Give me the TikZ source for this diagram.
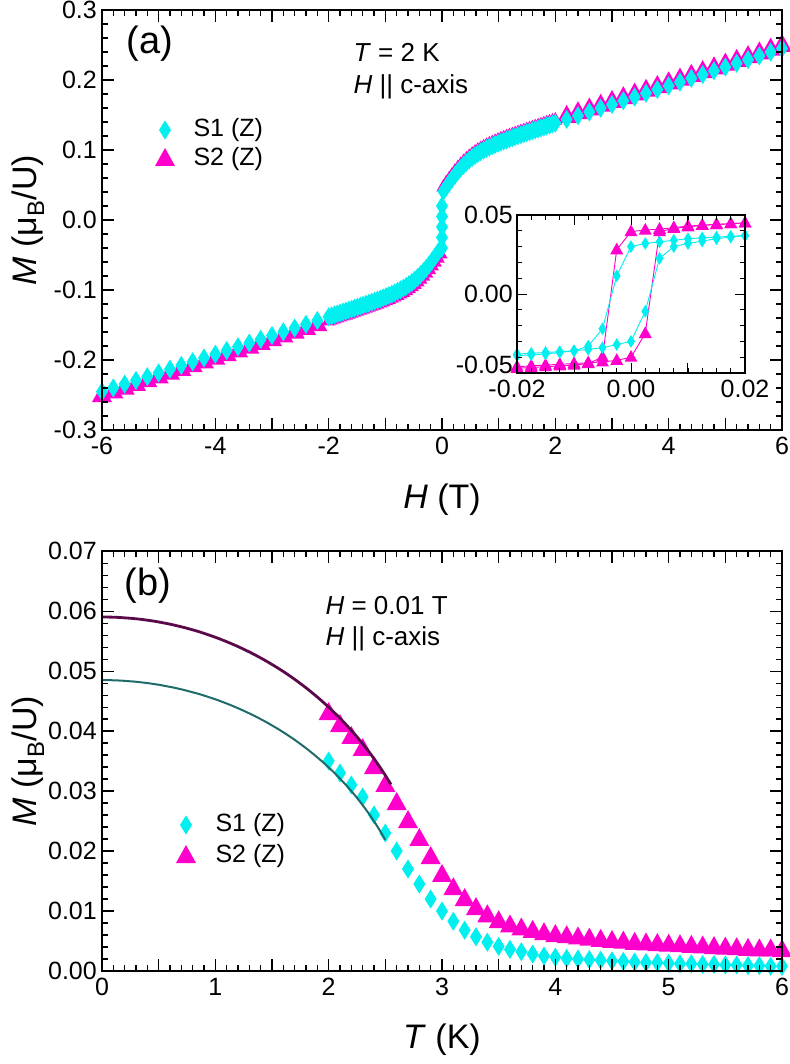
\documentclass[tikz,border=0pt]{standalone}
\usepackage{fontspec}
\setmainfont{Liberation Sans}
\usepackage{xcolor}
\definecolor{magmk}{HTML}{FF00CC}
\definecolor{cyanmk}{HTML}{00F0F0}
\definecolor{fitpurple}{HTML}{5A0A4A}
\definecolor{fitteal}{HTML}{1F6B6B}
\pgfdeclareplotmark{dmd}{\pgfpathmoveto{\pgfqpoint{0pt}{1.6\pgfplotmarksize}}\pgfpathlineto{\pgfqpoint{\pgfplotmarksize}{0pt}}\pgfpathlineto{\pgfqpoint{0pt}{-1.6\pgfplotmarksize}}\pgfpathlineto{\pgfqpoint{-\pgfplotmarksize}{0pt}}\pgfpathclose\pgfusepathqfill}
\pgfdeclareplotmark{tri}{\pgfpathmoveto{\pgfqpoint{0pt}{1.1\pgfplotmarksize}}\pgfpathlineto{\pgfqpoint{\pgfplotmarksize}{-0.7\pgfplotmarksize}}\pgfpathlineto{\pgfqpoint{-\pgfplotmarksize}{-0.7\pgfplotmarksize}}\pgfpathclose\pgfusepathqfill}
\newcommand{\fAtwo}{(\x/abs(\x))*(0.045+0.045*tanh(min(abs(\x)/0.5,4)))+0.0267*\x}
\newcommand{\fAone}{(\x/abs(\x))*(0.038+0.047*tanh(min(abs(\x)/0.5,4)))+0.0267*\x}
\begin{document}
\begin{tikzpicture}[x=1pt,y=1pt,line cap=butt,
    ticklab/.style={font=\fontsize{25}{28}\selectfont,inner sep=2pt},
    axtitle/.style={font=\fontsize{34}{38}\selectfont},
    note/.style={font=\fontsize{26}{30}\selectfont,anchor=west},
    panellab/.style={font=\fontsize{38}{42}\selectfont},
    legtext/.style={font=\fontsize{25}{28}\selectfont,anchor=west},
    s1marks/.style={cyanmk,mark=dmd,mark size=6pt},
    s2marks/.style={magmk,mark=tri,mark size=10pt},
    frame/.style={line width=2.2pt}]
\useasboundingbox (0,0) rectangle (789,-1064);

% panel (a)
\begin{scope}[x=56.667pt,y=700pt,shift={(442pt,-220pt)}]
  % data
  \draw[s2marks] plot[only marks,domain=-6:-2.2,samples=20] (\x,{\fAtwo});
  \draw[s2marks] plot[only marks,domain=2.2:6,samples=20] (\x,{\fAtwo});
  \draw[s2marks,mark size=7pt] plot[only marks,domain=-2:2,samples=80] (\x,{\fAtwo});
  \draw[s1marks] plot[only marks,domain=-6:-2.2,samples=20] (\x,{\fAone});
  \draw[s1marks] plot[only marks,domain=2.2:6,samples=20] (\x,{\fAone});
  \draw[s1marks] plot[only marks,domain=-2:2,samples=80] (\x,{\fAone});
  \draw[s1marks] plot[only marks] coordinates {(0,-0.04) (0,-0.025) (0,-0.01) (0,0.005) (0,0.02)};
  % frame and ticks
  \draw[frame] (-6,-0.3) rectangle (6,0.3);
  \foreach \t in {-6,-5.8,...,6.05} {
    \draw[line width=1.3pt] (\t,-0.3) -- ++(0,6pt);
    \draw[line width=1.3pt] (\t,0.3) -- ++(0,-6pt);
  }
  \foreach \t in {-6,...,6} {
    \draw[line width=1.3pt] (\t,-0.3) -- ++(0,12pt);
    \draw[line width=1.3pt] (\t,0.3) -- ++(0,-12pt);
  }
  \foreach \v in {-0.3,-0.28,...,0.305} {
    \draw[line width=1.3pt] (-6,\v) -- ++(6pt,0);
    \draw[line width=1.3pt] (6,\v) -- ++(-6pt,0);
  }
  \foreach \v in {-0.3,-0.2,...,0.305} {
    \draw[line width=1.3pt] (-6,\v) -- ++(12pt,0);
    \draw[line width=1.3pt] (6,\v) -- ++(-12pt,0);
  }
  \foreach \t [count=\i] in {-6,-4,-2,0,2,4,6}
    \node[ticklab,anchor=north] (xa\i) at (\t,-0.3) [yshift=-5pt] {\t};
  \foreach \v/\l [count=\i] in {0.3/0.3,0.2/0.2,0.1/0.1,0/0.0,-0.1/-0.1,-0.2/-0.2,-0.3/-0.3}
    \node[ticklab,anchor=east] (ya\i) at (-6,\v) [xshift=-3pt] {\l};
\end{scope}

% inset of (a)
\begin{scope}[x=5700pt,y=1580pt,shift={(631pt,-294pt)}]
  \fill[white] (-0.02,-0.05) rectangle (0.02,0.05);
  \draw[magmk,line width=0.9pt,mark=tri,mark size=6.5pt] plot coordinates {(-0.02,-0.046) (-0.0175,-0.0455) (-0.015,-0.045) (-0.0125,-0.0445) (-0.01,-0.044) (-0.0075,-0.0435) (-0.005,-0.043) (-0.0025,-0.042) (0,-0.040) (0.0025,-0.025) (0.005,0.0395) (0.0075,0.0415) (0.01,0.0425) (0.0125,0.0435) (0.015,0.044) (0.0175,0.0445) (0.02,0.045)};
  \draw[magmk,line width=0.9pt,mark=tri,mark size=6.5pt] plot coordinates {(-0.02,-0.047) (-0.0175,-0.0465) (-0.015,-0.046) (-0.0125,-0.0455) (-0.01,-0.045) (-0.0075,-0.044) (-0.005,-0.040) (-0.0025,0.028) (0,0.0395) (0.0025,0.0405) (0.005,0.041) (0.0075,0.042) (0.01,0.043) (0.0125,0.0435) (0.015,0.044) (0.0175,0.0445) (0.02,0.045)};
  \draw[cyanmk,line width=0.9pt,mark=dmd,mark size=4pt] plot coordinates {(-0.02,-0.038) (-0.0175,-0.0375) (-0.015,-0.037) (-0.0125,-0.0365) (-0.01,-0.036) (-0.0075,-0.035) (-0.005,-0.034) (-0.0025,-0.032) (0,-0.030) (0.0025,-0.011) (0.005,0.0226) (0.0075,0.030) (0.01,0.032) (0.0125,0.0335) (0.015,0.035) (0.0175,0.036) (0.02,0.037)};
  \draw[cyanmk,line width=0.9pt,mark=dmd,mark size=4pt] plot coordinates {(-0.02,-0.039) (-0.0175,-0.0385) (-0.015,-0.038) (-0.0125,-0.037) (-0.01,-0.036) (-0.0075,-0.033) (-0.005,-0.022) (-0.0025,0.0115) (0,0.030) (0.0025,0.032) (0.005,0.033) (0.0075,0.034) (0.01,0.035) (0.0125,0.0355) (0.015,0.036) (0.0175,0.0365) (0.02,0.037)};
  \draw[line width=1.5pt] (-0.02,-0.05) rectangle (0.02,0.05);
  \foreach \t in {-0.02,-0.0175,...,0.021} {
    \draw[line width=1pt] (\t,-0.05) -- ++(0,5pt);
    \draw[line width=1pt] (\t,0.05) -- ++(0,-5pt);
  }
  \foreach \t in {-0.01,0,0.01} {
    \draw[line width=1pt] (\t,-0.05) -- ++(0,10pt);
    \draw[line width=1pt] (\t,0.05) -- ++(0,-10pt);
  }
  \foreach \v in {-0.04,-0.03,...,0.045} {
    \draw[line width=1pt] (-0.02,\v) -- ++(5pt,0);
    \draw[line width=1pt] (0.02,\v) -- ++(-5pt,0);
  }
  \draw[line width=1pt] (-0.02,0) -- ++(10pt,0) (0.02,0) -- ++(-10pt,0);
  \foreach \t/\l [count=\i] in {-0.02/-0.02,0/0.00,0.02/0.02}
    \node[ticklab,anchor=north] (xi\i) at (\t,-0.05) [yshift=-5pt] {\l};
  \node[ticklab,anchor=east] (yi1) at (-0.02,0.05) [xshift=-2pt] {0.05};
  \node[ticklab,anchor=east] (yi2) at (-0.02,0) [xshift=-2pt] {0.00};
  \node[ticklab,anchor=east] (yi3) at (-0.02,-0.05) [xshift=-2pt,yshift=8pt] {-0.05};
\end{scope}

\node[panellab] (laba) at (150,-44) {(a)};
\node[note] (tempa) at (350,-52) {\textit{T} = 2 K};
\node[note] (fielda) at (350,-87) {\textit{H} || c-axis};
\draw[s1marks] plot[only marks] coordinates {(165,-130)};
\draw[s2marks] plot[only marks] coordinates {(165,-159)};
\node[legtext] (lega1) at (190,-130) {S1 (Z)};
\node[legtext] (lega2) at (190,-159) {S2 (Z)};
\node[axtitle,rotate=90] (ytita) at (28,-220) {\textit{M} (μ\textsubscript{B}/U)};
\node[axtitle] (xtita) at (442,-500) {\textit{H} (T)};

% panel (b)
\begin{scope}[x=113.333pt,y=6000pt,shift={(102pt,-971pt)}]
  \draw[s1marks] plot[only marks] coordinates {(2.0,.035) (2.1,.033) (2.2,.031) (2.3,.029) (2.4,.026) (2.5,.023) (2.6,.020) (2.7,.017) (2.8,.0145) (2.9,.012) (3.0,.010) (3.1,.0083) (3.2,.0068) (3.3,.0057) (3.4,.0048) (3.5,.0041) (3.6,.0036) (3.7,.0032) (3.8,.0028) (3.9,.0025) (4.0,.0023) (4.1,.0021) (4.2,.0020) (4.3,.0019) (4.4,.0018) (4.5,.0017) (4.6,.0016) (4.7,.0015) (4.8,.0014) (4.9,.0014) (5.0,.0013) (5.1,.0012) (5.2,.0012) (5.3,.0011) (5.4,.0011) (5.5,.0010) (5.6,.0010) (5.7,.0009) (5.8,.0009) (5.9,.0008) (6.0,.0008)};
  \draw[s2marks] plot[only marks] coordinates {(2.0,.043) (2.1,.041) (2.2,.039) (2.3,.037) (2.4,.034) (2.5,.031) (2.6,.028) (2.7,.025) (2.8,.022) (2.9,.019) (3.0,.016) (3.1,.0138) (3.2,.012) (3.3,.0105) (3.4,.0093) (3.5,.0083) (3.6,.0076) (3.7,.0071) (3.8,.0067) (3.9,.0063) (4.0,.006) (4.1,.0058) (4.2,.0056) (4.3,.0054) (4.4,.0052) (4.5,.0050) (4.6,.0049) (4.7,.0047) (4.8,.0046) (4.9,.0045) (5.0,.0044) (5.1,.0043) (5.2,.0042) (5.3,.0041) (5.4,.0040) (5.5,.0039) (5.6,.0038) (5.7,.0037) (5.8,.0036) (5.9,.0036) (6.0,.0035)};
  \draw[fitpurple,line width=2.8pt,domain=0:2.55,samples=60] plot (\x,{0.059*sqrt(1-(\x/3)^2)});
  \draw[fitteal,line width=2pt,domain=0:2.5,samples=60] plot (\x,{0.0485*sqrt(1-(\x/2.8)^2)});
  \draw[frame] (0,0) rectangle (6,0.07);
  \foreach \t in {0,0.1,...,6.05} {
    \draw[line width=1.3pt] (\t,0) -- ++(0,6pt);
    \draw[line width=1.3pt] (\t,0.07) -- ++(0,-6pt);
  }
  \foreach \t in {0,0.5,...,6} {
    \draw[line width=1.3pt] (\t,0) -- ++(0,12pt);
    \draw[line width=1.3pt] (\t,0.07) -- ++(0,-12pt);
  }
  \foreach \v in {0,0.002,...,0.0705} {
    \draw[line width=1.3pt] (0,\v) -- ++(6pt,0);
    \draw[line width=1.3pt] (6,\v) -- ++(-6pt,0);
  }
  \foreach \v in {0,0.01,...,0.0705} {
    \draw[line width=1.3pt] (0,\v) -- ++(12pt,0);
    \draw[line width=1.3pt] (6,\v) -- ++(-12pt,0);
  }
  \foreach \t [count=\i] in {0,...,6}
    \node[ticklab,anchor=north] (xb\i) at (\t,0) [yshift=-5pt] {\t};
  \foreach \v/\l [count=\i] in {0/0.00,0.01/0.01,0.02/0.02,0.03/0.03,0.04/0.04,0.05/0.05,0.06/0.06,0.07/0.07}
    \node[ticklab,anchor=east] (yb\i) at (0,\v) [xshift=-3pt] {\l};
\end{scope}

\node[panellab] (labb) at (148,-586) {(b)};
\node[note] (fieldb) at (322,-606) {\textit{H} = 0.01 T};
\node[note] (axisb) at (322,-639) {\textit{H} || c-axis};
\draw[s1marks] plot[only marks] coordinates {(186,-825)};
\draw[s2marks] plot[only marks] coordinates {(186,-856)};
\node[legtext] (legb1) at (212,-825) {S1 (Z)};
\node[legtext] (legb2) at (212,-856) {S2 (Z)};
\node[axtitle,rotate=90] (ytitb) at (28,-761) {\textit{M} (μ\textsubscript{B}/U)};
\node[axtitle] (xtitb) at (442,-1040) {\textit{T} (K)};
\end{tikzpicture}
\end{document}
